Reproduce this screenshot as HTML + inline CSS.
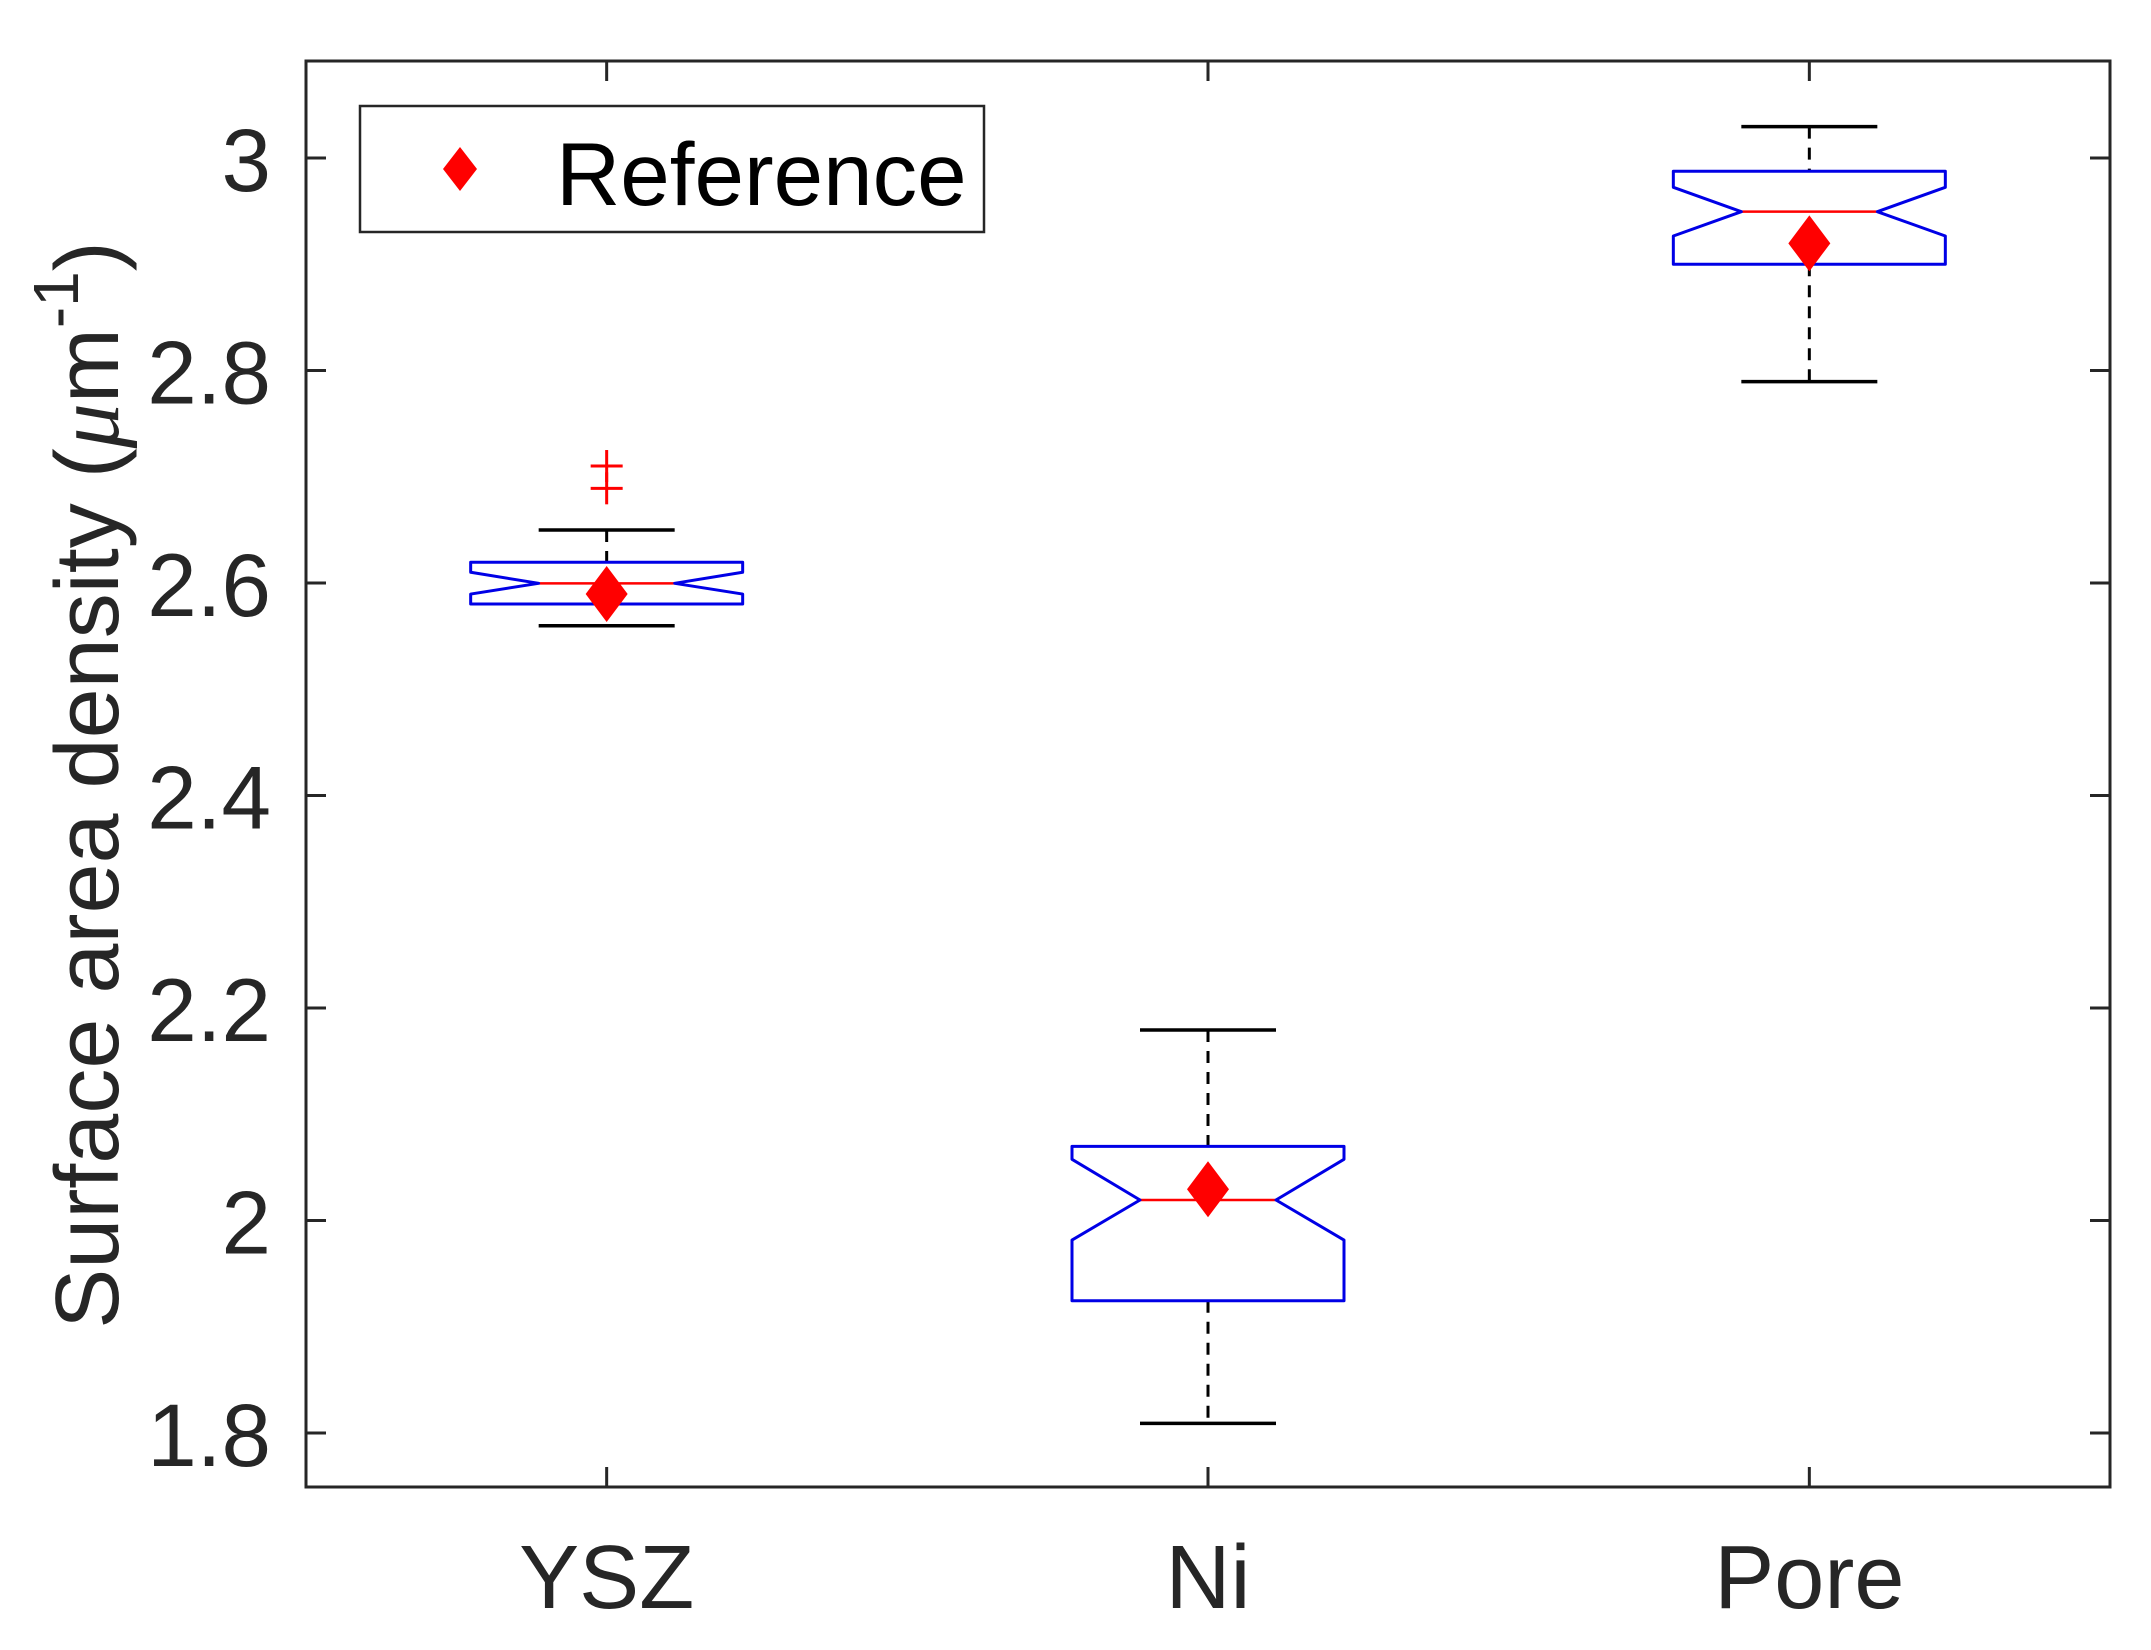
<!DOCTYPE html>
<html><head><meta charset="utf-8"><style>
html,body{margin:0;padding:0;background:#fff;}
svg{display:block;font-family:"Liberation Sans",Arial,sans-serif;}
</style></head><body>
<svg id="chart" width="2151" height="1650" viewBox="0 0 2151 1650" xmlns="http://www.w3.org/2000/svg"></svg>
<script>
const categories = ["YSZ", "Ni", "Pore"];
const upperWhisker = [2.6499, 2.1793, 3.0295];
const q3 = [2.6195, 2.0698, 2.9875];
const notchHigh = [2.6101, 2.0576, 2.9724];
const median = [2.5997, 2.0193, 2.9495];
const notchLow = [2.5896, 1.9816, 2.9266];
const q1 = [2.5802, 1.9245, 2.9];
const lowerWhisker = [2.5598, 1.8091, 2.7895];
const referenceValues = [2.5896, 2.0294, 2.9197];
const outlierCategory = [0, 0];
const outlierValues = [2.7101, 2.6891];
const yTicks = [1.8, 2, 2.2, 2.4, 2.6, 2.8, 3];
const yTickLabels = ["1.8", "2", "2.2", "2.4", "2.6", "2.8", "3"];

const L = 306, R = 2110, T = 61, B = 1487;
const yMin = 1.8 - (1487 - 1433) / 1062.5, yMax = 3 + (158 - 61) / 1062.5;
const xMin = 0.5, xMax = 3.5;
function xs(i) { return L + ((i + 1) - xMin) / (xMax - xMin) * (R - L); }
function ys(v) { return B - (v - yMin) / (yMax - yMin) * (B - T); }

const svg = document.getElementById('chart');
const NS = 'http://www.w3.org/2000/svg';
function mk(tag, attrs, parent) {
  const e = document.createElementNS(NS, tag);
  for (const k in attrs) e.setAttribute(k, attrs[k]);
  (parent || svg).appendChild(e);
  return e;
}
const axisColor = '#262626';

const tickG = mk('g', {});


yTicks.forEach((v, i) => {
  const y = ys(v);
  mk('line', {x1: L, x2: L + 20, y1: y, y2: y, stroke: axisColor, 'stroke-width': 3}, tickG);
  mk('line', {x1: R, x2: R - 20, y1: y, y2: y, stroke: axisColor, 'stroke-width': 3}, tickG);
  const t = mk('text', {x: 271, y: y + 33, 'text-anchor': 'end', 'font-size': 89, fill: axisColor});
  t.textContent = yTickLabels[i];
  
  
});
categories.forEach((c, i) => {
  const x = xs(i);
  mk('line', {x1: x, x2: x, y1: B, y2: B - 20, stroke: axisColor, 'stroke-width': 3}, tickG);
  mk('line', {x1: x, x2: x, y1: T, y2: T + 20, stroke: axisColor, 'stroke-width': 3}, tickG);
  const t = mk('text', {x: x, y: 1608, 'text-anchor': 'middle', 'font-size': 90, fill: axisColor});
  t.textContent = c;
  
  
});

const frame = mk('rect', {x: L, y: T, width: R - L, height: B - T, fill: 'none', stroke: axisColor, 'stroke-width': 3});



const halfW = 136, halfN = 68;
categories.forEach((c, i) => {
  const x = xs(i);
  const g = mk('g', {});
  
  
  mk('line', {x1: x, x2: x, y1: ys(upperWhisker[i]), y2: ys(q3[i]), stroke: '#000', 'stroke-width': 3, 'stroke-dasharray': '12,9'}, g);
  mk('line', {x1: x, x2: x, y1: ys(q1[i]), y2: ys(lowerWhisker[i]), stroke: '#000', 'stroke-width': 3, 'stroke-dasharray': '12,9'}, g);
  mk('line', {x1: x - halfN, x2: x + halfN, y1: ys(upperWhisker[i]), y2: ys(upperWhisker[i]), stroke: '#000', 'stroke-width': 3.5}, g);
  mk('line', {x1: x - halfN, x2: x + halfN, y1: ys(lowerWhisker[i]), y2: ys(lowerWhisker[i]), stroke: '#000', 'stroke-width': 3.5}, g);
  mk('line', {x1: x - halfN, x2: x + halfN, y1: ys(median[i]), y2: ys(median[i]), stroke: '#f00', 'stroke-width': 2.5}, g);
  const pts = [
    [x - halfW, ys(q3[i])], [x + halfW, ys(q3[i])], [x + halfW, ys(notchHigh[i])],
    [x + halfN, ys(median[i])], [x + halfW, ys(notchLow[i])], [x + halfW, ys(q1[i])],
    [x - halfW, ys(q1[i])], [x - halfW, ys(notchLow[i])], [x - halfN, ys(median[i])],
    [x - halfW, ys(notchHigh[i])]
  ].map(p => p.join(',')).join(' ');
  mk('polygon', {points: pts, fill: 'none', stroke: '#0000e6', 'stroke-width': 3, 'stroke-linejoin': 'round'}, g);
  const ry = ys(referenceValues[i]);
  const d = mk('polygon', {points: `${x},${ry - 28} ${x + 21},${ry} ${x},${ry + 28} ${x - 21},${ry}`, fill: '#f00'}, g);
  
  
});

outlierValues.forEach((v, j) => {
  const x = xs(outlierCategory[j]), y = ys(v);
  const g = mk('g', {stroke: '#f00', 'stroke-width': 3});
  
  
  mk('line', {x1: x - 16, x2: x + 16, y1: y, y2: y}, g);
  mk('line', {x1: x, x2: x, y1: y - 16, y2: y + 16}, g);
});

const lg = mk('g', {});


mk('rect', {x: 360, y: 106, width: 624, height: 126, fill: '#fff', stroke: axisColor, 'stroke-width': 2.5}, lg);
mk('polygon', {points: '460,147 477,169 460,191 443,169', fill: '#f00'}, lg);
const lt = mk('text', {x: 556, y: 205, 'font-size': 89, fill: '#000'}, lg);
lt.textContent = 'Reference';



const yt = mk('text', {x: 0, y: 0, 'text-anchor': 'middle', 'font-size': 90, fill: axisColor, transform: 'translate(118,785) rotate(-90)'});


yt.innerHTML = 'Surface area density (<tspan font-style="italic" font-family="Liberation Serif, serif">μ</tspan>m<tspan dy="-40" font-size="64">-1</tspan><tspan dy="40">)</tspan>';
</script>
</body></html>
